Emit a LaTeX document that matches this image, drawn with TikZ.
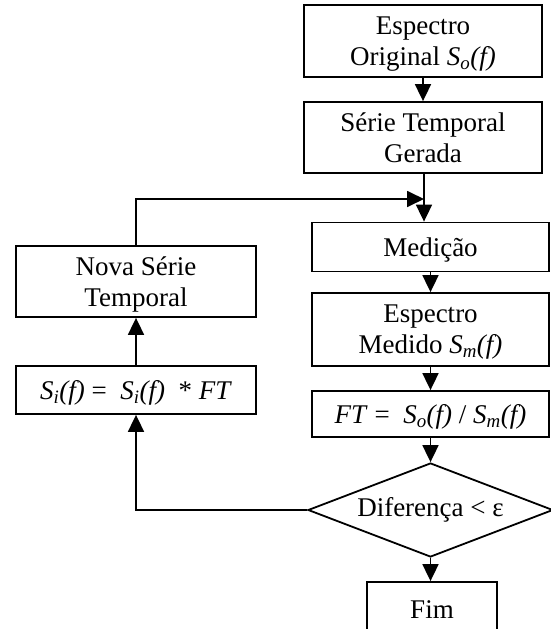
\documentclass[tikz,border=0pt]{standalone}
\usepackage{fontspec}
\setmainfont{Liberation Serif}
\usetikzlibrary{arrows.meta,shapes.geometric}
\newcommand{\sub}[2]{\textit{#1}\textsubscript{\textit{#2}}}
\begin{document}
\begin{tikzpicture}[x=1pt,y=-1pt,
  every node/.style={font=\fontsize{27}{31}\selectfont},
  box/.style={draw,line width=1.8pt,rectangle,inner sep=0pt,align=center,text depth=0pt},
  dec/.style={draw,line width=1.8pt,diamond,inner sep=0pt,minimum width=245pt,minimum height=94pt,aspect=2.6},
  conn/.style={line width=1.8pt},
  arr/.style={conn,-{Triangle[length=17pt,width=16pt]}}]
\clip (0,0) rectangle (551,629);
\node[box,minimum width=238pt,minimum height=72pt] (n1) at (423,41) {Espectro\\Original \sub{S}{o}\textit{(f)}};
\node[box,minimum width=238pt,minimum height=71pt] (n2) at (423,137.5) {Série Temporal\\Gerada};
\node[box,minimum width=237pt,minimum height=49pt] (n3) at (430.5,247) {Medição};
\node[box,minimum width=237pt,minimum height=73pt] (n4) at (430.5,329.5) {Espectro\\Medido \sub{S}{m}\textit{(f)}};
\node[box,minimum width=237pt,minimum height=46pt] (n5) at (430.5,414) {\textit{FT} =\ \ \sub{S}{o}\textit{(f)} / \sub{S}{m}\textit{(f)}};
\node[dec] (d) at (430.5,510) {Diferença < ε};
\node[box,minimum width=130pt,minimum height=56pt] (fim) at (432,610) {Fim};
\node[box,minimum width=240pt,minimum height=71pt] (nova) at (136,281.5) {Nova Série\\Temporal};
\node[box,minimum width=240pt,minimum height=48pt] (si) at (136,390) {\sub{S}{i}\textit{(f)} =\ \ \sub{S}{i}\textit{(f)} \ * \textit{FT}};
\coordinate (j) at (424,199);
\draw[arr] (n1.south) -- (n2.north);
\draw[arr] (n2.south -| j) -- (j |- n3.north);
\draw[arr] (nova.north) -- (nova.north |- j) -- (j);
\draw[arr] (n3.south) -- (n4.north);
\draw[arr] (n4.south) -- (n5.north);
\draw[arr] (n5.south) -- (d.north);
\draw[arr] (d.south) -- (d.south |- fim.north);
\draw[arr] (d.west) -- (si.south |- d.west) -- (si.south);
\draw[arr] (si.north) -- (nova.south);
\end{tikzpicture}
\end{document}
